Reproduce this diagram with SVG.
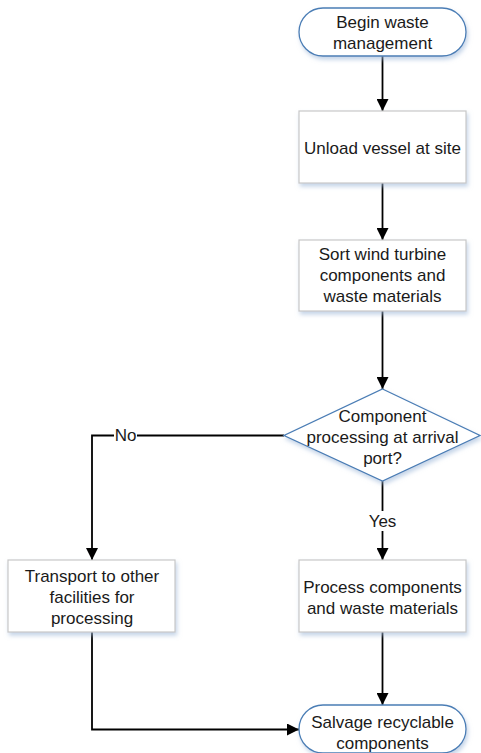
<svg xmlns="http://www.w3.org/2000/svg" width="481" height="753" viewBox="0 0 481 753">
<style>
text{font-family:"Liberation Sans",Arial,sans-serif;font-size:17px;fill:#1a1a1a;text-anchor:middle}
.box{fill:#fff;stroke:#c8c8c8;stroke-width:1.2;filter:url(#sh)}
.term{fill:#fff;stroke:#4a7db5;stroke-width:1.3;filter:url(#sh)}
.dia{fill:#fff;stroke:#4a7db5;stroke-width:1.3;filter:url(#sh)}
.c{fill:none;stroke:#000;stroke-width:1.8}
.lbl{fill:#fff}
</style>
<defs>
<filter id="sh" x="-10%" y="-10%" width="130%" height="140%">
<feDropShadow dx="1.5" dy="3" stdDeviation="2" flood-color="#9db8d9" flood-opacity="0.6"/>
</filter>
<marker id="ar" viewBox="0 0 12 12" refX="12" refY="6" markerWidth="12" markerHeight="12" markerUnits="userSpaceOnUse" orient="auto">
<path d="M0,0 L12,6 L0,12 Z" fill="#000"/>
</marker>
</defs>
<g id="connectors">
<path class="c" d="M382.5,56 V111" marker-end="url(#ar)"/>
<path class="c" d="M382.5,183 V240" marker-end="url(#ar)"/>
<path class="c" d="M382.5,311 V389" marker-end="url(#ar)"/>
<path class="c" d="M284,435.5 H92 V560" marker-end="url(#ar)"/>
<rect class="lbl" x="114" y="426" width="23" height="20"/>
<text x="125.5" y="441">No</text>
<path class="c" d="M382.5,481 V560" marker-end="url(#ar)"/>
<rect class="lbl" x="367" y="511" width="31" height="20"/>
<text x="382.5" y="527">Yes</text>
<path class="c" d="M382.5,632 V705" marker-end="url(#ar)"/>
<path class="c" d="M92,632 V729.5 H299" marker-end="url(#ar)"/>
</g>
<g id="start">
<rect class="term" x="299" y="8" width="167" height="48" rx="24" ry="24"/>
<text x="382.5" y="28">Begin waste</text>
<text x="382.5" y="49">management</text>
</g>
<g id="unload">
<rect class="box" x="299" y="111" width="167" height="72"/>
<text x="382.5" y="154">Unload vessel at site</text>
</g>
<g id="sort">
<rect class="box" x="299" y="240" width="167" height="71"/>
<text x="382.5" y="260">Sort wind turbine</text>
<text x="382.5" y="281">components and</text>
<text x="382.5" y="302">waste materials</text>
</g>
<g id="decision">
<polygon class="dia" points="382.5,389 480,435.5 382.5,481 284,435.5"/>
<text x="382.5" y="422">Component</text>
<text x="382.5" y="443">processing at arrival</text>
<text x="382.5" y="464">port?</text>
</g>
<g id="transport">
<rect class="box" x="8" y="560" width="167" height="72"/>
<text x="92" y="582">Transport to other</text>
<text x="92" y="603">facilities for</text>
<text x="92" y="624">processing</text>
</g>
<g id="process">
<rect class="box" x="299" y="560" width="167" height="72"/>
<text x="382.5" y="593">Process components</text>
<text x="382.5" y="614">and waste materials</text>
</g>
<g id="salvage">
<rect class="term" x="299" y="705" width="167" height="48" rx="24" ry="24"/>
<text x="382.5" y="728">Salvage recyclable</text>
<text x="382.5" y="749">components</text>
</g>
</svg>
